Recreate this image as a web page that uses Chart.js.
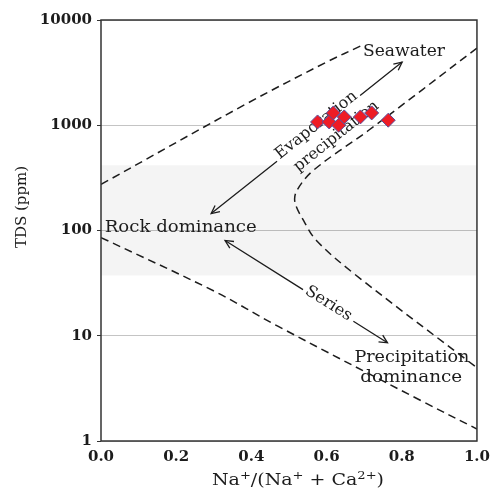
<!DOCTYPE html>
<html>
<head>
<meta charset="utf-8">
<script src="https://cdn.jsdelivr.net/npm/chart.js@4"></script>
<style>
  html, body { margin: 0; padding: 0; background: #fff; }
  #wrap { width: 497px; height: 488px; }
</style>
</head>
<body>
<div id="wrap"><canvas id="gibbs"></canvas></div>
<script>
// samples
const naRatio = [0.576, 0.607, 0.618, 0.632, 0.647, 0.690, 0.720, 0.764];
const tdsPpm  = [1075, 1075, 1310, 1000, 1200, 1200, 1310, 1117];

// Gibbs boundaries (dashed)
const upperBoundNa  = [0, 0.39, 0.60, 0.696];
const upperBoundTds = [274, 1622, 3981, 5780];
const lowerBoundNa  = [0, 0.304, 0.469, 0.853, 1.0];
const lowerBoundTds = [85.7, 26.2, 12.4, 2.40, 1.30];
const rightBoundNa  = [1.0, 0.712, 0.565, 0.521, 0.516, 0.539, 0.573, 0.673, 1.0];
const rightBoundTds = [5408, 896, 373, 240, 185, 124, 80.4, 38.9, 4.96];

// shaded rock dominance band
const bandNa     = [0, 1];
const bandTopTds = [416, 416];
const bandLowTds = [37.3, 37.3];

// arrows
const evapArrowNa    = [0.293, 0.801];
const evapArrowTds   = [145, 3981];
const seriesArrowNa  = [0.330, 0.762];
const seriesArrowTds = [80.4, 8.57];

const xTickValues = [0, 0.2, 0.4, 0.6, 0.8, 1.0];
const yTickValues = [1, 10, 100, 1000, 10000];

const toXY = (xs, ys) => xs.map((x, i) => ({ x: x, y: ys[i] }));

// text notes: anchor in data units, width = fitted text width in px
const notes = [
  { text: "Seawater", x: 0.806, y: 4955, width: 82 },
  { text: "Rock dominance", x: 0.212, y: 107, width: 152 },
  { text: "Precipitation", x: 0.827, y: 6.17, width: 115 },
  { text: "dominance", x: 0.825, y: 3.98, width: 102 },
  { text: "Evaporation", x: 0.573, y: 1000, width: 100, along: "evap" },
  { text: "precipitation", x: 0.626, y: 785, width: 104, along: "evap" },
  { text: "Series", x: 0.605, y: 20.2, width: 52, along: "series" }
];

const SERIF = "'DejaVu Serif', serif";
const INK = "#1c1c1c";

function fitText(ctx, t, x, y, width, angle) {
  ctx.save();
  ctx.translate(x, y);
  ctx.rotate(angle || 0);
  ctx.font = "16px " + SERIF;
  const w = ctx.measureText(t).width;
  ctx.scale(width / w, 1);
  ctx.textAlign = "center";
  ctx.textBaseline = "middle";
  ctx.fillStyle = INK;
  ctx.fillText(t, 0, 0);
  ctx.restore();
}

function arrowHead(ctx, x, y, ang) {
  const len = 9, spread = 0.45;
  ctx.beginPath();
  ctx.moveTo(x - len * Math.cos(ang - spread), y - len * Math.sin(ang - spread));
  ctx.lineTo(x, y);
  ctx.lineTo(x - len * Math.cos(ang + spread), y - len * Math.sin(ang + spread));
  ctx.stroke();
}

function drawArrow(ctx, p0, p1, gap) {
  const ang = Math.atan2(p1.y - p0.y, p1.x - p0.x);
  const lerp = t => ({ x: p0.x + (p1.x - p0.x) * t, y: p0.y + (p1.y - p0.y) * t });
  const a = lerp(gap[0]), b = lerp(gap[1]);
  ctx.beginPath();
  ctx.moveTo(p0.x, p0.y); ctx.lineTo(a.x, a.y);
  ctx.moveTo(b.x, b.y); ctx.lineTo(p1.x, p1.y);
  ctx.stroke();
  arrowHead(ctx, p1.x, p1.y, ang);
  arrowHead(ctx, p0.x, p0.y, ang + Math.PI);
  return ang;
}

// x title with raised charges
function drawXTitle(ctx, cx, baseline, width) {
  const parts = [["Na", 0], ["+", 1], ["/(Na", 0], ["+", 1], [" + Ca", 0], ["2+", 1], [")", 0]];
  const font = sup => (sup ? "11px " : "16px ") + SERIF;
  let total = 0;
  parts.forEach(([t, sup]) => { ctx.font = font(sup); total += ctx.measureText(t).width; });
  ctx.save();
  ctx.translate(cx - width / 2, baseline);
  ctx.scale(width / total, 1);
  ctx.fillStyle = INK;
  ctx.textBaseline = "alphabetic";
  ctx.textAlign = "left";
  let xPos = 0;
  parts.forEach(([t, sup]) => {
    ctx.font = font(sup);
    ctx.fillText(t, xPos, sup ? -6 : 0);
    xPos += ctx.measureText(t).width;
  });
  ctx.restore();
}

const gibbsDecor = {
  id: "gibbsDecor",
  beforeDatasetDraw(chart, args) {
    if (args.index !== 0) return;
    const { ctx, scales: { x, y } } = chart;
    const px = (a, b) => ({ x: x.getPixelForValue(a), y: y.getPixelForValue(b) });
    ctx.save();
    ctx.strokeStyle = INK;
    ctx.lineWidth = 1.3;
    const angles = {
      evap: drawArrow(ctx, px(evapArrowNa[0], evapArrowTds[0]), px(evapArrowNa[1], evapArrowTds[1]), [0.345, 0.78]),
      series: drawArrow(ctx, px(seriesArrowNa[0], seriesArrowTds[0]), px(seriesArrowNa[1], seriesArrowTds[1]), [0.48, 0.79])
    };
    notes.forEach(n => {
      const p = px(n.x, n.y);
      fitText(ctx, n.text, p.x, p.y, n.width, n.along ? angles[n.along] : 0);
    });
    ctx.restore();
  },
  afterDraw(chart) {
    const { ctx, chartArea: a } = chart;
    ctx.save();
    ctx.strokeStyle = "#333";
    ctx.lineWidth = 1.5;
    ctx.strokeRect(a.left, a.top, a.right - a.left, a.bottom - a.top);
    drawXTitle(ctx, 298, 485, 172);
    // y axis title
    ctx.translate(22, 207);
    ctx.rotate(-Math.PI / 2);
    ctx.font = "15px " + SERIF;
    ctx.fillStyle = INK;
    ctx.textAlign = "center";
    ctx.textBaseline = "middle";
    ctx.fillText("TDS (ppm)", 0, 0);
    ctx.restore();
  }
};

const dashed = (xs, ys) => ({
  data: toXY(xs, ys),
  borderColor: INK,
  borderWidth: 1.5,
  borderDash: [8, 5],
  pointRadius: 0,
  tension: 0.35,
  fill: false,
  order: 2
});

new Chart(document.getElementById("gibbs"), {
  type: "line",
  data: {
    datasets: [
      {
        label: "Samples",
        data: toXY(naRatio, tdsPpm),
        showLine: false,
        pointStyle: "rectRot",
        pointRadius: 7,
        pointBackgroundColor: "#ee1c25",
        pointBorderColor: "#5a4e9c",
        pointBorderWidth: 1,
        order: 0
      },
      {
        data: toXY(bandNa, bandTopTds),
        borderWidth: 0,
        pointRadius: 0,
        backgroundColor: "rgba(0,0,0,0.045)",
        fill: "+1",
        order: 3
      },
      {
        data: toXY(bandNa, bandLowTds),
        borderWidth: 0,
        pointRadius: 0,
        fill: false,
        order: 3
      },
      dashed(upperBoundNa, upperBoundTds),
      dashed(lowerBoundNa, lowerBoundTds),
      dashed(rightBoundNa, rightBoundTds)
    ]
  },
  options: {
    responsive: true,
    maintainAspectRatio: false,
    animation: false,
    layout: { padding: { top: 20, right: 14, left: 0, bottom: 0 } },
    plugins: { legend: { display: false }, tooltip: { enabled: false } },
    scales: {
      x: {
        type: "linear",
        min: 0,
        max: 1,
        afterBuildTicks: s => { s.ticks = xTickValues.map(v => ({ value: v })); },
        afterFit: s => { s.height = 47; },
        grid: { display: false, drawTicks: false },
        border: { display: false },
        ticks: {
          padding: 7,
          color: INK,
          font: { family: SERIF, size: 15, weight: "bold" },
          callback: v => v.toFixed(1)
        }
      },
      y: {
        type: "logarithmic",
        min: 1,
        max: 10000,
        afterBuildTicks: s => { s.ticks = yTickValues.map(v => ({ value: v, major: true })); },
        afterFit: s => { s.width = 101; },
        grid: { color: "#c4c4c4", tickColor: "#333", tickLength: 4, lineWidth: 1 },
        border: { display: false },
        ticks: {
          padding: 5,
          color: INK,
          font: { family: SERIF, size: 15, weight: "bold" },
          callback: v => String(v)
        }
      }
    }
  },
  plugins: [gibbsDecor]
});
</script>
</body>
</html>
